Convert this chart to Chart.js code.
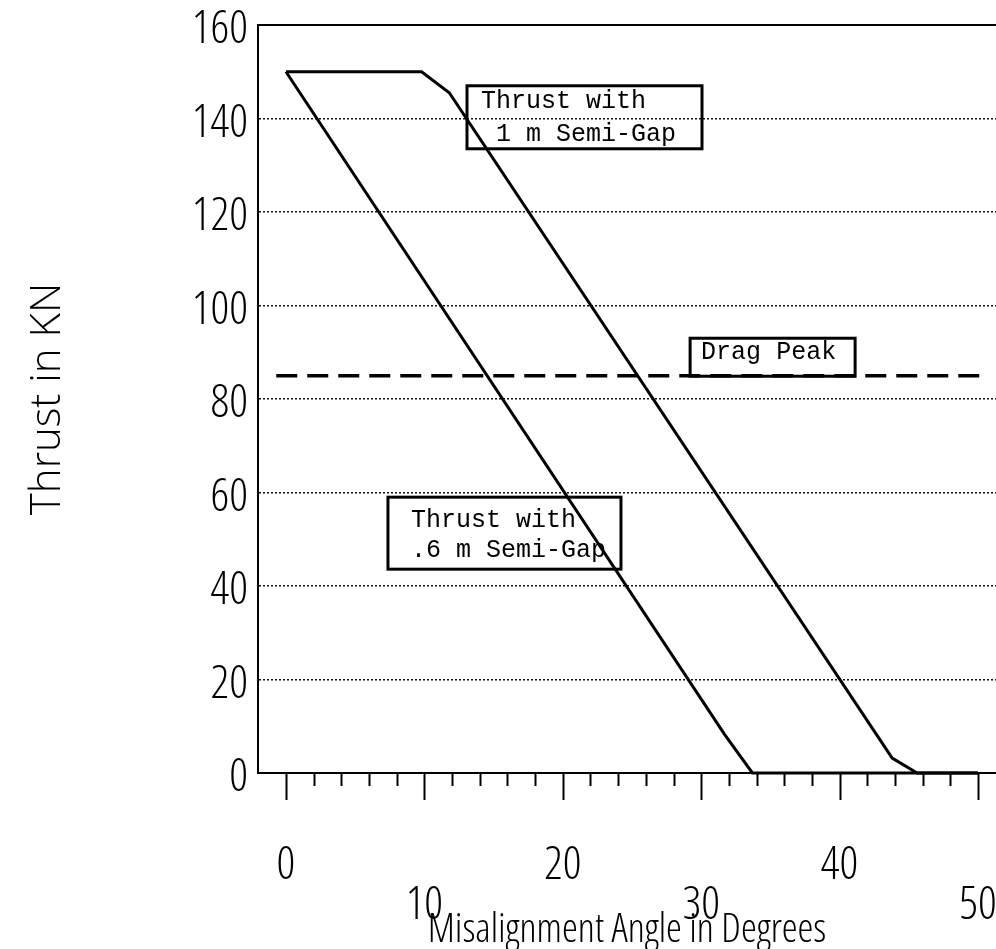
<!DOCTYPE html>
<html><head><meta charset="utf-8">
<script src="https://cdn.jsdelivr.net/npm/chart.js@4.4.1/dist/chart.umd.min.js"></script>
<style>html,body{margin:0;padding:0;background:#fff;}#wrap{width:996px;height:949px;position:relative}</style>
</head><body><div id="wrap"><canvas id="c"></canvas></div>
<script>
// ---- data ----
const semiGap06X = [0, 31.7, 33.7, 50];
const semiGap06Y = [150, 8.2, 0, 0];
const semiGap1X  = [0, 9.8, 11.8, 43.8, 45.6, 50];
const semiGap1Y  = [150, 150, 145.5, 3.2, 0, 0];
const dragPeakX  = [-0.7, 50.5];
const dragPeakY  = [85, 85];
const xTickValues = [0, 2, 4, 6, 8, 10, 12, 14, 16, 18, 20, 22, 24, 26, 28, 30, 32, 34, 36, 38, 40, 42, 44, 46, 48, 50];
const yTickValues = [0, 20, 40, 60, 80, 100, 120, 140, 160];
const xTitle = 'Misalignment Angle in Degrees';
const yTitle = 'Thrust in KN';
const labelLines1 = ['Thrust with', ' 1 m Semi-Gap'];
const labelLines2 = ['Drag Peak'];
const labelLines3 = ['Thrust with', '.6 m Semi-Gap'];

const xy = (xs, ys) => xs.map((v, i) => ({x: v, y: ys[i]}));
const labelFamily = "'Open Sans', 'DejaVu Sans Condensed', sans-serif";

const annotations = [
  {lines: labelLines1, x: 13.08, y: 147.0, w: 235, h: 63, padX: 14, base: [22, 55]},
  {lines: labelLines2, x: 29.2,  y: 93.0,  w: 165, h: 38, padX: 11, base: [21]},
  {lines: labelLines3, x: 7.37,  y: 59.0,  w: 233, h: 72, padX: 23, base: [30, 60]},
];

const framePlugin = {
  id: 'frameTicks',
  afterDraw(chart) {
    const {ctx, chartArea: a, scales: {x}} = chart;
    ctx.save();
    ctx.strokeStyle = '#000';
    ctx.lineWidth = 2;
    ctx.beginPath();
    ctx.moveTo(a.left, a.top); ctx.lineTo(a.right, a.top);
    x.ticks.forEach(t => {
      const px = Math.round(x.getPixelForValue(t.value)) + 0.5;
      const len = t.value % 10 === 0 ? 27 : 13;
      ctx.moveTo(px, a.bottom); ctx.lineTo(px, a.bottom + len);
    });
    ctx.stroke();
    ctx.restore();
  }
};

const annotPlugin = {
  id: 'boxes',
  afterDatasetsDraw(chart) {
    const {ctx, scales: {x, y}} = chart;
    ctx.save();
    ctx.strokeStyle = '#000';
    ctx.lineWidth = 3;
    ctx.fillStyle = '#000';
    ctx.font = "25px 'Liberation Mono', 'Courier New', monospace";
    ctx.textBaseline = 'alphabetic';
    annotations.forEach(b => {
      const px = x.getPixelForValue(b.x), py = y.getPixelForValue(b.y);
      ctx.strokeRect(px, py, b.w, b.h);
      b.lines.forEach((t, i) => ctx.fillText(t, px + b.padX, py + b.base[i]));
    });
    ctx.restore();
  }
};

new Chart(document.getElementById('c'), {
  type: 'line',
  data: {
    datasets: [
      {label: 'Thrust with .6 m Semi-Gap', data: xy(semiGap06X, semiGap06Y), borderColor: '#000', borderWidth: 3, pointRadius: 0, tension: 0, clip: false},
      {label: 'Thrust with 1 m Semi-Gap', data: xy(semiGap1X, semiGap1Y), borderColor: '#000', borderWidth: 3, pointRadius: 0, tension: 0, clip: false},
      {label: 'Drag Peak', data: xy(dragPeakX, dragPeakY), borderColor: '#000', borderWidth: 3.5, borderDash: [21, 10], pointRadius: 0, tension: 0, clip: false},
    ]
  },
  options: {
    responsive: true,
    maintainAspectRatio: false,
    animation: false,
    devicePixelRatio: 1,
    layout: {padding: {top: 25, right: 0, left: 0, bottom: 0}},
    plugins: {legend: {display: false}, tooltip: {enabled: false}},
    scales: {
      x: {
        type: 'linear',
        min: -2.02, max: 51.3,
        afterBuildTicks: s => { s.ticks = xTickValues.map(v => ({value: v})); },
        afterFit: s => { s.height = 176; s.paddingLeft = 0; s.paddingRight = 0; },
        grid: {drawOnChartArea: false, drawTicks: false},
        border: {display: true, color: '#000', width: 2},
        ticks: {
          autoSkip: false, maxRotation: 0, padding: 73, color: '#000',
          font: {family: labelFamily, size: 46, weight: '300 condensed', lineHeight: '40px'},
          callback: v => v % 10 !== 0 ? '' : ((v / 10) % 2 === 0 ? [String(v), ''] : ['', String(v)])
        },
        title: {display: true, text: xTitle, color: '#000', font: {family: labelFamily, size: 40, weight: '300 condensed', lineHeight: '36px'}, padding: {top: 0, bottom: 0}}
      },
      y: {
        type: 'linear',
        min: 0, max: 160,
        afterBuildTicks: s => { s.ticks = yTickValues.map(v => ({value: v})); },
        afterFit: s => { s.width = 258; s.paddingTop = 0; s.paddingBottom = 0; },
        grid: {drawTicks: false, color: '#111', lineWidth: 1.5},
        border: {display: true, color: '#000', width: 2, dash: [2, 2]},
        ticks: {padding: 10, labelOffset: 5, color: '#000', font: {family: labelFamily, size: 46, weight: '300 condensed'}},
        title: {display: true, text: yTitle, color: '#000', font: {family: "'Open Sans', sans-serif", size: 42, weight: '300', lineHeight: 1}, padding: {top: 27, bottom: 0}}
      }
    }
  },
  plugins: [framePlugin, annotPlugin]
});
</script>
</body></html>
